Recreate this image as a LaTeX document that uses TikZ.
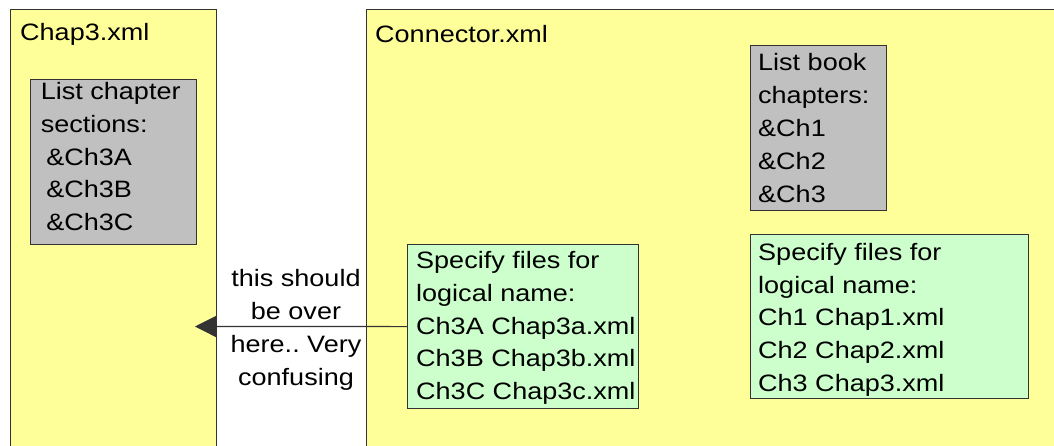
\documentclass[tikz,border=0pt]{standalone}
\usepackage{fontspec}
\setmainfont[FakeStretch=1.14]{Liberation Sans}
\usetikzlibrary{arrows.meta}
\definecolor{yel}{HTML}{FFFF99}
\definecolor{gry}{HTML}{C0C0C0}
\definecolor{grn}{HTML}{CCFFCC}
\definecolor{edge}{HTML}{333333}
\newcommand\fl{\rule{0pt}{24pt}}
\frenchspacing
\begin{document}
\begin{tikzpicture}[x=1pt,y=-1pt,
  box/.style={draw=edge, line width=1.2pt, inner sep=0pt, anchor=north west},
  txt/.style={inner sep=0pt, align=left, anchor=north west, font=\fontsize{23.7}{32.8}\selectfont},
  ttl/.style={inner sep=0pt, anchor=base west, font=\fontsize{23.7}{32.8}\selectfont}]
\useasboundingbox (0,0) rectangle (1054,445);
\clip (0,0) rectangle (1054,445);
% outer boxes
\node[box, fill=yel, minimum width=206.5pt, minimum height=460pt] (chap3) at (9.5,8.7) {};
\node[box, fill=yel, minimum width=700pt, minimum height=460pt] (conn) at (366,8.7) {};
\node[ttl] (chap3title) at (20,40) {Chap3.xml};
\node[ttl] (conntitle) at (375,42) {Connector.xml};
% inner boxes
\node[box, fill=gry, minimum width=166pt, minimum height=165pt] (gl) at (30,79) {};
\node[box, fill=gry, minimum width=136pt, minimum height=165pt] (gr) at (750,45) {};
\node[box, fill=grn, minimum width=278pt, minimum height=164pt] (fr) at (750,234) {};
\node[box, fill=grn, minimum width=231pt, minimum height=164pt] (fl) at (407,244) {};
% texts
\node[txt] (gltext) at (40.7,99.3-24) {\fl List chapter\\sections:\\\hspace*{5.5pt}\&Ch3A\\\hspace*{5.5pt}\&Ch3B\\\hspace*{5.5pt}\&Ch3C};
\node[txt] (grtext) at (758,70.7-24) {\fl List book\\chapters:\\\&Ch1\\\&Ch2\\\&Ch3};
\node[txt] (frtext) at (758,260-24) {\fl Specify files for\\logical name:\\Ch1 Chap1.xml\\Ch2 Chap2.xml\\Ch3 Chap3.xml};
\node[txt] (fltext) at (416,268.3-24) {\fl Specify files for\\logical name:\\Ch3A Chap3a.xml\\Ch3B Chap3b.xml\\Ch3C Chap3c.xml};
% connector
\coordinate (tip) at (195,326.5);
\draw[edge, line width=1.2pt, -{Triangle[length=21pt,width=21pt]}] (fl.west) -- (tip);
\node[txt, align=center, anchor=north] (note) at (296,286.7-24) {\fl this should\\be over\\here.. Very\\confusing};
\end{tikzpicture}
\end{document}
